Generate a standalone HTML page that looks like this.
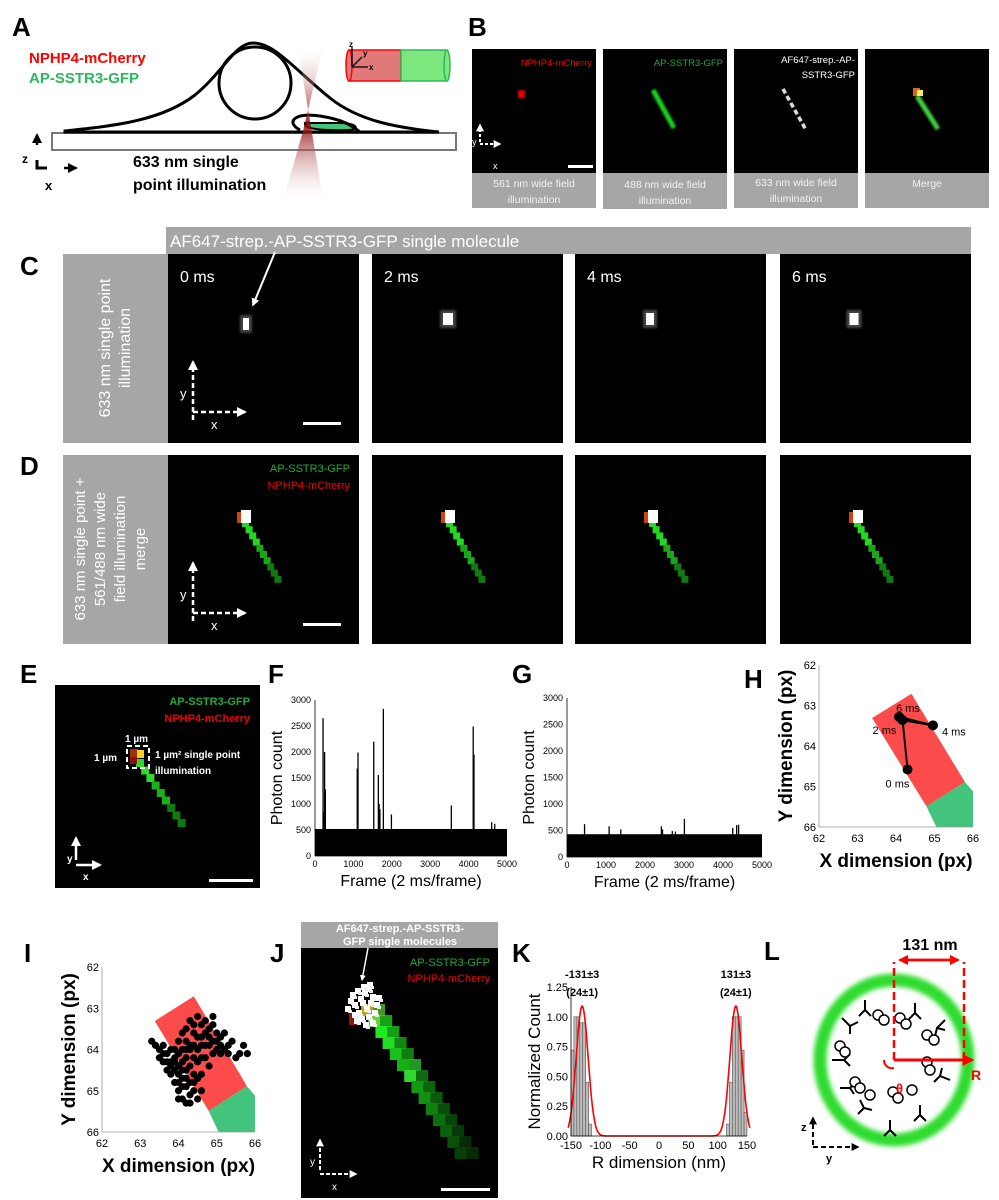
<!DOCTYPE html>
<html><head><meta charset="utf-8">
<style>
html,body{margin:0;padding:0;background:#fff;}
svg{display:block;font-family:"Liberation Sans",sans-serif;}
.lt{font-weight:bold;font-size:26px;fill:#000;}
.gl{fill:#f2f2f2;font-size:10.5px;text-anchor:middle;}
.tk{font-size:9px;fill:#000;}
.tkb{font-size:11px;fill:#000;}
</style></head>
<body>
<svg id="fig" width="999" height="1200" viewBox="0 0 999 1200">
<defs>
<linearGradient id="beam" x1="0" y1="0" x2="0" y2="1">
<stop offset="0" stop-color="#fff" stop-opacity="0"/><stop offset="0.5" stop-color="#8b0000"/><stop offset="1" stop-color="#fff" stop-opacity="0"/>
</linearGradient>
<marker id="ah" viewBox="0 0 10 10" refX="8" refY="5" markerWidth="4" markerHeight="4" orient="auto"><path d="M0,0L10,5L0,10z" fill="#fff"/></marker>
<marker id="ahk" viewBox="0 0 10 10" refX="8" refY="5" markerWidth="4" markerHeight="4" orient="auto"><path d="M0,0L10,5L0,10z" fill="#000"/></marker>
<marker id="ahr" viewBox="0 0 10 10" refX="8" refY="5" markerWidth="4" markerHeight="4" orient="auto"><path d="M0,0L10,5L0,10z" fill="#f00"/></marker>
<filter id="blur"><feGaussianBlur stdDeviation="2.5"/></filter>
<filter id="sblur"><feGaussianBlur stdDeviation="1"/></filter>
</defs>

<g>
<text class="lt" x="12" y="36">A</text>
<text x="29" y="63" font-size="15" font-weight="bold" fill="#f00">NPHP4-mCherry</text>
<text x="29" y="83" font-size="15" font-weight="bold" fill="#2eb85c">AP-SSTR3-GFP</text>
<rect x="52" y="133" width="404" height="17" fill="#fff" stroke="#777" stroke-width="2"/>
<path d="M65,131 C110,126 160,122 195,95 C225,70 235,43 253,43 C275,43 295,70 330,98 C360,122 400,128 439,132 L65,132 Z" fill="#fff" stroke="#000" stroke-width="3"/>
<circle cx="255" cy="83" r="36" fill="none" stroke="#000" stroke-width="3"/>
<path d="M305,125 C306,131 350,131 355,129 C358,126 352,123 340,123 L305,123 Z" fill="#44c47a" stroke="#000" stroke-width="2"/>
<path d="M300,130 C285,122 295,112 320,116 C345,120 352,126 360,132" fill="none" stroke="#000" stroke-width="3"/>
<polygon points="297,43 324,43 303,131 282,205 324,205" fill="url(#beam)" opacity="0.85"/>
<g>
<rect x="349" y="50" width="52" height="31" fill="#e07a7a" stroke="#f00" stroke-width="1.5"/>
<ellipse cx="349" cy="65.5" rx="3" ry="15.5" fill="#e07a7a" stroke="#f00" stroke-width="1.5"/>
<rect x="401" y="50" width="46" height="31" fill="#7ee67e" stroke="#2eb85c" stroke-width="1.5"/>
<ellipse cx="447" cy="65.5" rx="3" ry="15.5" fill="#7ee67e" stroke="#2eb85c" stroke-width="1.5"/>
<path d="M352,67 L352,47 M352,67 L368,67 M352,67 L362,57" stroke="#000" stroke-width="1.3" fill="none"/>
<text x="349" y="47" font-size="8" font-weight="bold">z</text><text x="363" y="56" font-size="8" font-weight="bold">y</text><text x="369" y="70" font-size="8" font-weight="bold">x</text>
</g>
<g>
<path d="M37,145 L37,135" stroke="#000" stroke-width="2.5" marker-end="url(#ahk)"/>
<path d="M37,160 L37,168 L47,168" stroke="#000" stroke-width="3" fill="none"/>
<path d="M64,168 L76,168" stroke="#000" stroke-width="2.5" marker-end="url(#ahk)"/>
<text x="22" y="163" font-size="12" font-weight="bold">z</text><text x="45" y="190" font-size="13" font-weight="bold">x</text>
</g>
<text x="133" y="167" font-size="16" font-weight="bold">633 nm single</text>
<text x="133" y="190" font-size="16" font-weight="bold">point illumination</text>
</g>

<g>
<text class="lt" x="468" y="36">B</text>
<rect x="472" y="49" width="124" height="124" fill="#000"/>
<rect x="603" y="49" width="124" height="124" fill="#000"/>
<rect x="734" y="49" width="124" height="124" fill="#000"/>
<rect x="865" y="49" width="124" height="124" fill="#000"/>
<rect x="472" y="173" width="124" height="35" fill="#a6a6a6"/><rect x="603" y="173" width="124" height="36" fill="#a6a6a6"/>
<rect x="734" y="173" width="124" height="35" fill="#a6a6a6"/><rect x="865" y="173" width="124" height="35" fill="#a6a6a6"/>
<text class="gl" x="534" y="187">561 nm wide field</text><text class="gl" x="534" y="203">illumination</text>
<text class="gl" x="665" y="188">488 nm wide field</text><text class="gl" x="665" y="204">illumination</text>
<text class="gl" x="796" y="186">633 nm wide field</text><text class="gl" x="796" y="202">illumination</text>
<text class="gl" x="927" y="187">Merge</text>
<text x="592" y="66" font-size="9.5" fill="#e00" text-anchor="end">NPHP4-mCherry</text>
<text x="723" y="66" font-size="9.5" fill="#1faa3c" text-anchor="end">AP-SSTR3-GFP</text>
<text x="855" y="63" font-size="9.5" fill="#fff" text-anchor="end">AF647-strep.-AP-</text>
<text x="855" y="78" font-size="9.5" fill="#fff" text-anchor="end">SSTR3-GFP</text>
<rect x="518" y="90" width="7" height="8" fill="#e00" filter="url(#sblur)"/>
<path d="M653,90 L674,128" stroke="#1fd01f" stroke-width="5" filter="url(#sblur)"/>
<path d="M783,89 L806,130" stroke="#ddd" stroke-width="3.5" stroke-dasharray="5,3"/>
<path d="M917,96 L938,129" stroke="#3fcf3f" stroke-width="5" filter="url(#sblur)"/>
<rect x="913" y="88" width="7" height="8" fill="#e06020"/><rect x="917" y="90" width="6" height="6" fill="#ffee66"/>
<path d="M480,142 L480,125" stroke="#fff" stroke-width="2" stroke-dasharray="3,2" marker-end="url(#ah)"/>
<path d="M480,144 L500,144" stroke="#fff" stroke-width="2" stroke-dasharray="3,2" marker-end="url(#ah)"/>
<text x="472" y="145" font-size="9" fill="#fff">y</text><text x="493" y="169" font-size="9" fill="#fff">x</text>
<rect x="568" y="165" width="25" height="3" fill="#fff"/>
</g>

<g id="cd">
<text class="lt" x="20" y="275">C</text>
<text class="lt" x="20" y="475">D</text>
<rect x="166" y="227" width="805" height="27" fill="#a6a6a6"/>
<text x="170" y="247" font-size="17" fill="#fff">AF647-strep.-AP-SSTR3-GFP single molecule</text>
<rect x="63" y="254" width="105" height="189" fill="#a6a6a6"/>
<rect x="63" y="455" width="105" height="189" fill="#a6a6a6"/>
<g transform="translate(115,348) rotate(-90)" font-size="16" fill="#fff" text-anchor="middle">
<text x="0" y="-5">633 nm single point</text><text x="0" y="15">illumination</text></g>
<g transform="translate(115,549) rotate(-90)" font-size="15" fill="#fff" text-anchor="middle">
<text x="0" y="-30">633 nm single point +</text><text x="0" y="-10">561/488 nm  wide</text><text x="0" y="10">field illumination</text><text x="0" y="30">merge</text></g>
</g>

<g>
<text class="lt" x="20" y="683">E</text>
<rect x="55" y="685" width="205" height="203" fill="#000"/>
<text x="250" y="705" font-size="11" font-weight="bold" fill="#1faa3c" text-anchor="end">AP-SSTR3-GFP</text>
<text x="250" y="722" font-size="11" font-weight="bold" fill="#e00" text-anchor="end">NPHP4-mCherry</text>
<g id="epix"></g>
<rect x="127" y="746" width="22" height="22" fill="none" stroke="#fff" stroke-width="2" stroke-dasharray="5,3"/>
<text x="125" y="742" font-size="10" font-weight="bold" fill="#fff">1 µm</text>
<text x="94" y="761" font-size="10" font-weight="bold" fill="#fff">1 µm</text>
<text x="155" y="758" font-size="10" font-weight="bold" fill="#fff">1 µm² single point</text>
<text x="155" y="774" font-size="10" font-weight="bold" fill="#fff">illumination</text>
<path d="M76,860 L76,838" stroke="#fff" stroke-width="2.5" marker-end="url(#ah)"/>
<path d="M76,865 L100,865" stroke="#fff" stroke-width="2.5" marker-end="url(#ah)"/>
<text x="67" y="862" font-size="10" font-weight="bold" fill="#fff">y</text><text x="83" y="880" font-size="10" font-weight="bold" fill="#fff">x</text>
<rect x="209" y="879" width="44" height="3" fill="#fff"/>
</g>

<g id="charts"></g>

<g>
<text class="lt" x="270" y="962">J</text>
<rect x="301" y="922" width="197" height="26" fill="#a6a6a6"/>
<text x="400" y="932" font-size="11" font-weight="bold" fill="#fff" text-anchor="middle">AF647-strep.-AP-SSTR3-</text>
<text x="400" y="945" font-size="11" font-weight="bold" fill="#fff" text-anchor="middle">GFP single molecules</text>
<rect x="301" y="948" width="197" height="250" fill="#000"/>
<text x="490" y="966" font-size="11" fill="#1faa3c" text-anchor="end">AP-SSTR3-GFP</text>
<text x="490" y="982" font-size="11" fill="#e00" text-anchor="end">NPHP4-mCherry</text>
<g id="jpix"></g>
<path d="M368,948 L362,980" stroke="#fff" stroke-width="1.5" marker-end="url(#ah)"/>
<path d="M320,1170 L320,1140" stroke="#fff" stroke-width="2" stroke-dasharray="4,2" marker-end="url(#ah)"/>
<path d="M320,1174 L356,1174" stroke="#fff" stroke-width="2" stroke-dasharray="4,2" marker-end="url(#ah)"/>
<text x="310" y="1165" font-size="10" fill="#fff">y</text><text x="332" y="1190" font-size="10" fill="#fff">x</text>
<rect x="441" y="1188" width="49" height="3" fill="#fff"/>
</g>

<g>
<text class="lt" x="764" y="960">L</text>
<ellipse cx="894" cy="1060" rx="74" ry="80" fill="none" stroke="#2edc2e" stroke-width="13" filter="url(#blur)"/>
<g stroke="#000" stroke-width="2" fill="none">
<path d="M842,1018 l8,8 m0,0 l0,8 m0,-8 l8,-4"/><path d="M865,1000 l0,10 l-6,6 m6,-6 l6,6"/>
<path d="M915,1003 l0,10 l-6,6 m6,-6 l6,6"/><path d="M945,1020 l-8,8 l-2,8 m2,-8 l8,2"/>
<path d="M832,1060 l12,0 l6,-6 m-6,6 l6,6"/><path d="M950,1080 l-10,-4 l-6,6 m6,-6 l2,-8"/>
<path d="M860,1100 l4,8 l-6,6 m6,-6 l8,2"/><path d="M920,1105 l0,10 l-6,6 m6,-6 l6,6"/>
<path d="M890,1120 l0,10 l-6,6 m6,-6 l6,6"/><path d="M840,1088 l10,0 l6,-6 m-6,6 l4,6"/>
</g>
<g stroke="#000" stroke-width="1.5" fill="#fff">
<circle cx="878" cy="1015" r="5"/><circle cx="884" cy="1020" r="5"/><circle cx="900" cy="1018" r="5"/><circle cx="906" cy="1024" r="5"/>
<circle cx="927" cy="1035" r="5"/><circle cx="934" cy="1040" r="5"/><circle cx="840" cy="1046" r="5"/><circle cx="845" cy="1052" r="5"/>
<circle cx="927" cy="1062" r="5"/><circle cx="930" cy="1070" r="5"/><circle cx="855" cy="1082" r="5"/><circle cx="860" cy="1088" r="5"/>
<circle cx="893" cy="1092" r="5"/><circle cx="898" cy="1098" r="5"/><circle cx="912" cy="1090" r="5"/><circle cx="870" cy="1095" r="5"/>
</g>
<path d="M894,1060 L894,962 M964,1060 L964,962" stroke="#f00" stroke-width="2.5" stroke-dasharray="8,4" fill="none"/>
<path d="M900,960 L958,960" stroke="#f00" stroke-width="2.5" marker-end="url(#ahr)"/>
<path d="M958,960 L900,960" stroke="#f00" stroke-width="2.5" marker-end="url(#ahr)"/>
<text x="930" y="950" font-size="16" font-weight="bold" text-anchor="middle">131 nm</text>
<path d="M894,1060 L972,1060" stroke="#f00" stroke-width="3" marker-end="url(#ahr)"/>
<path d="M894,1068 A8,8 0 0 1 884,1060" stroke="#f00" stroke-width="2" fill="none"/>
<text x="971" y="1080" font-size="14" font-weight="bold" fill="#f00">R</text>
<text x="896" y="1093" font-size="13" font-weight="bold" fill="#f00">θ</text>
<path d="M813,1145 L813,1118" stroke="#000" stroke-width="2" stroke-dasharray="5,3" marker-end="url(#ahk)"/>
<path d="M813,1147 L858,1147" stroke="#000" stroke-width="2" stroke-dasharray="5,3" marker-end="url(#ahk)"/>
<text x="801" y="1131" font-size="11" font-weight="bold">z</text><text x="826" y="1162" font-size="11" font-weight="bold">y</text>
</g>
</svg>

<script>
// ---------- data ----------
var fSpikeFrames = [210,230,250,270,1100,1120,1530,1650,1670,1690,1780,1990,3550,4120,4140,4600,4680];
var fSpikeCounts = [2650,850,2000,1280,1680,1990,2200,1560,1000,900,2830,800,970,2490,1950,650,620];
var fBase = [520];
var gSpikeFrames = [450,1080,1380,2420,2450,2700,2780,3010,4250,4350,4400];
var gSpikeCounts = [620,580,520,580,520,490,480,720,550,600,610];
var gBase = [430];
var frameTicks = [0,1000,2000,3000,4000,5000];
var countTicks = [0,500,1000,1500,2000,2500,3000];
var hTimes = ['0 ms','2 ms','4 ms','6 ms'];
var hX = [64.3,64.17,64.96,64.08];
var hY = [64.58,63.36,63.49,63.28];
var redPolyX = [63.38,64.4,65.79,64.79];
var redPolyY = [63.31,62.71,64.89,65.49];
var greenPolyX = [65.79,66,66,65.05,64.79];
var greenPolyY = [64.89,65.12,66,66,65.49];
var pxTicks = [62,63,64,65,66];
var iX = [63.3,63.4,63.5,63.5,63.6,63.6,63.7,63.7,63.8,63.8,63.8,63.9,63.9,63.9,64.0,64.0,64.0,64.0,64.1,64.1,64.1,64.1,64.2,64.2,64.2,64.2,64.3,64.3,64.3,64.3,64.4,64.4,64.4,64.4,64.5,64.5,64.5,64.6,64.6,64.6,64.7,64.7,64.7,64.8,64.8,64.8,64.9,64.9,65.0,65.0,65.1,65.1,65.2,65.2,65.3,65.4,65.5,65.6,65.7,65.8,63.6,63.7,63.9,64.0,64.1,64.2,64.3,64.4,64.2,64.3,64.5,64.6,64.1,64.0,63.9,64.2,64.4,64.6,64.8,65.0,64.7,64.9,65.1,65.3,64.5,64.3,64.1,63.8,64.0,64.2,64.6,64.5,64.9,64.4];
var iY = [63.8,63.9,64.0,64.2,63.9,64.3,64.1,64.5,64.0,64.3,64.6,64.2,64.5,64.8,63.8,64.1,64.6,65.0,63.6,64.3,64.7,65.2,63.5,64.0,64.9,65.3,63.3,63.9,64.4,65.1,63.4,64.2,64.6,65.0,63.2,63.7,64.3,63.4,63.9,64.6,63.3,63.6,64.2,63.5,63.9,64.4,63.4,63.8,63.6,64.0,63.7,64.1,63.6,64.0,63.9,63.8,64.2,64.1,63.9,64.1,64.1,64.3,64.0,64.4,64.0,64.5,64.8,64.8,64.2,64.0,64.0,64.2,64.5,64.8,64.3,64.7,63.9,63.7,63.7,63.8,63.9,64.1,63.9,64.1,64.7,65.3,64.9,64.4,65.2,63.8,65.0,65.2,63.2,63.6];
var kBinCenters = [-147.5,-142.5,-137.5,-132.5,-127.5,-122.5,-117.5,117.5,122.5,127.5,132.5,137.5,142.5,147.5];
var kBinCounts = [0.72,1.0,1.0,0.95,0.95,0.45,0.1,0.1,0.45,1.0,1.0,1.0,0.72,0.2];
var kFitMu = [-131,131];
var kFitSigma = [10.2,10.2];
var kFitAmp = [1.09,1.09];
var kXTicks = [-150,-100,-50,0,50,100,150];
var kYTicks = [0,0.25,0.5,0.75,1.0,1.25];
var kYTickLabels = ['0.00','0.25','0.50','0.75','1.00','1.25'];

var NS='http://www.w3.org/2000/svg';
function mk(tag, attrs, parent){var e=document.createElementNS(NS,tag);for(var k in attrs)e.setAttribute(k,attrs[k]);parent.appendChild(e);return e;}
function lin(d0,d1,r0,r1){return function(v){return r0+(v-d0)/(d1-d0)*(r1-r0);};}
var charts=document.getElementById('charts');

// ---------- C/D images ----------
var cd=document.getElementById('cd');
var imgX=[168,372,575,780];
var cLbl=['0 ms','2 ms','4 ms','6 ms'];
var cSpotDX=[78,76,75,74];
var cSpotDY=[69,64,64,64];
var cSpotW=[6,10,8,9];
for(var i=0;i<4;i++){
  var r=mk('rect',{x:imgX[i],y:254,width:191,height:189,fill:'#000'},cd);
  
  
  var t=mk('text',{x:imgX[i]+12,y:282,'font-size':16,fill:'#fff'},cd);t.textContent=cLbl[i];
  var sx=imgX[i]+cSpotDX[i], sy=254+cSpotDY[i];
  mk('rect',{x:sx-cSpotW[i]/2-3,y:sy-8,width:cSpotW[i]+6,height:18,fill:'#444',filter:'url(#sblur)'},cd);
  mk('rect',{x:sx-cSpotW[i]/2,y:sy-5,width:cSpotW[i],height:12,fill:'#fff'},cd);
  var r2=mk('rect',{x:imgX[i],y:455,width:191,height:189,fill:'#000'},cd);
  
  
  var hx=imgX[i]+74, hy=455+65;
  for(var k=0;k<10;k++){mk('rect',{x:hx+k*3.6,y:hy+k*6.2,width:7,height:7,fill:k<4?'#22d822':(k<7?'#1aa81a':'#127a12')},cd);}
  mk('rect',{x:hx-5,y:hy-8,width:7,height:11,fill:'#d04010'},cd);
  mk('rect',{x:hx-1,y:hy-10,width:10,height:13,fill:'#fff'},cd);
}
var axy=[[193,420,412],[193,621,613]];
for(var a=0;a<2;a++){
  mk('path',{d:'M'+axy[a][0]+','+axy[a][1]+' L'+axy[a][0]+','+(axy[a][1]-58),stroke:'#fff','stroke-width':2.5,'stroke-dasharray':'5,3','marker-end':'url(#ah)'},cd);
  mk('path',{d:'M'+axy[a][0]+','+axy[a][2]+' L'+(axy[a][0]+52)+','+axy[a][2],stroke:'#fff','stroke-width':2.5,'stroke-dasharray':'5,3','marker-end':'url(#ah)'},cd);
  var ty=mk('text',{x:axy[a][0]-13,y:axy[a][1]-22,'font-size':13,fill:'#fff'},cd);ty.textContent='y';
  var tx=mk('text',{x:axy[a][0]+18,y:axy[a][2]+17,'font-size':13,fill:'#fff'},cd);tx.textContent='x';
  mk('rect',{x:303,y:axy[a][1]+2,width:38,height:3,fill:'#fff'},cd);
}
mk('path',{d:'M275,252 L253,305',stroke:'#fff','stroke-width':2,'marker-end':'url(#ah)'},cd);
var t1=mk('text',{x:350,y:472,'font-size':11,fill:'#1faa3c','text-anchor':'end'},cd);t1.textContent='AP-SSTR3-GFP';
var t2=mk('text',{x:350,y:489,'font-size':11,fill:'#e00','text-anchor':'end'},cd);t2.textContent='NPHP4-mCherry';

// E pixels
var ep=document.getElementById('epix');
for(var k=0;k<9;k++){mk('rect',{x:136+k*5.2,y:759+k*7.5,width:8,height:8,fill:k<3?'#2ed82e':(k<6?'#1bb01b':'#0f7a0f')},ep);}
mk('rect',{x:130,y:749,width:8,height:8,fill:'#a03010'},ep);mk('rect',{x:137,y:750,width:7,height:8,fill:'#ffcc22'},ep);mk('rect',{x:130,y:757,width:7,height:7,fill:'#901010'},ep);

// J pixels
var jp=document.getElementById('jpix');
var jShade=['#c8a000','#5fd82e','#1ee81e','#22dd22','#19c019','#15b015','#30d830','#129a12','#119011','#0f800f','#0d700d','#0b600b','#0a500a','#083e08'];
for(var k=0;k<14;k++){
  mk('rect',{x:361+k*7.2,y:1004+k*11,width:12,height:12,fill:jShade[k]},jp);
  mk('rect',{x:373+k*7.2,y:1004+k*11,width:12,height:12,fill:jShade[Math.min(k+1,13)],opacity:0.7},jp);
}
mk('rect',{x:349,y:1013,width:12,height:12,fill:'#8a1a0a'},jp);
var jdx=[350,355,358,362,366,370,352,360,364,368,372,356,348,361,366,374,354,359,363,370,345,352,376,367];
var jdy=[992,988,996,990,986,994,1002,1000,1006,1000,1010,1010,998,984,1014,1002,1018,1016,1022,1020,1006,1012,995,982];
for(var k=0;k<jdx.length;k++){mk('rect',{x:jdx[k],y:jdy[k],width:6,height:6,fill:'#fff'},jp);mk('rect',{x:jdx[k]+3,y:jdy[k]+4,width:4,height:3,fill:'#eee'},jp);}

// ---------- F / G ----------
function photonChart(name,letter,lx,x0,x1,y0,y1,frames,counts,base){
  var g=mk('g',{},charts);
  
  
  var X=lin(0,5000,x0,x1), Y=lin(0,3000,y0,y1);
  var lt=mk('text',{x:lx,y:683,'class':'lt'},g);lt.textContent=letter;
  var b=mk('rect',{x:X(0),y:Y(base[0]),width:X(5000)-X(0),height:Y(0)-Y(base[0]),fill:'#000'},g);
  
  
  for(var i=0;i<frames.length;i++){
    var s=mk('line',{x1:X(frames[i]),x2:X(frames[i]),y1:Y(0),y2:Y(counts[i]),stroke:'#000','stroke-width':1.3},g);
    
    
  }
  mk('line',{x1:x0,x2:x0,y1:y0,y2:y1,stroke:'#000','stroke-width':0.8},g);
  mk('line',{x1:x0,x2:x1,y1:y0,y2:y0,stroke:'#000','stroke-width':0.8},g);
  for(var i=0;i<frameTicks.length;i++){var t=mk('text',{x:X(frameTicks[i]),y:y0+11,'class':'tk','text-anchor':'middle'},g);t.textContent=frameTicks[i];}
  for(var i=0;i<countTicks.length;i++){var t=mk('text',{x:x0-4,y:Y(countTicks[i])+3,'class':'tk','text-anchor':'end'},g);t.textContent=countTicks[i];}
  var xt=mk('text',{x:(x0+x1)/2,y:y0+30,'font-size':16,'text-anchor':'middle'},g);xt.textContent='Frame (2 ms/frame)';
  
  
  var yt=mk('text',{x:0,y:0,'font-size':16,'text-anchor':'middle',transform:'translate('+(x0-33)+','+((y0+y1)/2)+') rotate(-90)'},g);yt.textContent='Photon count';
  
  
}
photonChart('chart-f','F',268,315,507,856,700,fSpikeFrames,fSpikeCounts,fBase);
photonChart('chart-g','G',512,567,762,857,698,gSpikeFrames,gSpikeCounts,gBase);

// ---------- H / I ----------
function posChart(name,letter,lx,ly,x0,x1,y0,y1){
  var g=mk('g',{},charts);
  
  
  var X=lin(62,66,x0,x1), Y=lin(62,66,y0,y1);
  var lt=mk('text',{x:lx,y:ly,'class':'lt'},g);lt.textContent=letter;
  var rp=[],gp=[];
  for(var i=0;i<redPolyX.length;i++)rp.push(X(redPolyX[i])+','+Y(redPolyY[i]));
  for(var i=0;i<greenPolyX.length;i++)gp.push(X(greenPolyX[i])+','+Y(greenPolyY[i]));
  var r=mk('polygon',{points:rp.join(' '),fill:'#fb4b4b'},g);
  
  
  var gg=mk('polygon',{points:gp.join(' '),fill:'#42c47c'},g);
  
  
  mk('line',{x1:x0,x2:x0,y1:y0,y2:y1,stroke:'#999','stroke-width':0.8},g);
  mk('line',{x1:x0,x2:x1,y1:y1,y2:y1,stroke:'#999','stroke-width':0.8},g);
  for(var i=0;i<pxTicks.length;i++){
    var t=mk('text',{x:X(pxTicks[i]),y:y1+15,'class':'tkb','text-anchor':'middle'},g);t.textContent=pxTicks[i];
    var t2=mk('text',{x:x0-3,y:Y(pxTicks[i])+4,'class':'tkb','text-anchor':'end'},g);t2.textContent=pxTicks[i];
  }
  var xt=mk('text',{x:(x0+x1)/2,y:y1+40,'font-size':19,'font-weight':'bold','text-anchor':'middle'},g);xt.textContent='X dimension (px)';
  
  
  var yt=mk('text',{x:0,y:0,'font-size':19,'font-weight':'bold','text-anchor':'middle',transform:'translate('+(x0-27)+','+((y0+y1)/2)+') rotate(-90)'},g);yt.textContent='Y dimension (px)';
  
  
  return {g:g,X:X,Y:Y};
}
var H=posChart('chart-h','H',744,688,819,973,665,827);
var pts=[];
for(var i=0;i<hX.length;i++)pts.push(H.X(hX[i])+','+H.Y(hY[i]));
var tr=mk('polyline',{points:pts.join(' '),fill:'none',stroke:'#000','stroke-width':2},H.g);


var hOff=[[-22,18],[-30,14],[9,10],[-3,-5]];
for(var i=0;i<hX.length;i++){
  var c=mk('circle',{cx:H.X(hX[i]),cy:H.Y(hY[i]),r:5,fill:'#000'},H.g);
  
  
  var t=mk('text',{x:H.X(hX[i])+hOff[i][0],y:H.Y(hY[i])+hOff[i][1],'font-size':11},H.g);t.textContent=hTimes[i];
}
var I=posChart('chart-i','I',24,962,102,255,967,1132);
for(var i=0;i<iX.length;i++){
  var c=mk('circle',{cx:I.X(iX[i]),cy:I.Y(iY[i]),r:3.6,fill:'#000'},I.g);
  
  
}

// ---------- K ----------
(function(){
  var g=mk('g',{},charts);
  
  
  var x0=571,x1=747,y0=1136,y1=987;
  var X=lin(-150,150,x0,x1), Y=lin(0,1.25,y0,y1);
  var lt=mk('text',{x:512,y:962,'class':'lt'},g);lt.textContent='K';
  for(var i=0;i<kBinCenters.length;i++){
    var b=mk('rect',{x:X(kBinCenters[i]-2.5),y:Y(kBinCounts[i]),width:X(5)-X(0),height:Y(0)-Y(kBinCounts[i]),fill:'#bdbdbd',stroke:'#555','stroke-width':0.6},g);
    
    
  }
  var d='';
  for(var v=-155;v<=155;v+=1){
    var y=0;for(var j=0;j<kFitMu.length;j++){y+=kFitAmp[j]*Math.exp(-Math.pow(v-kFitMu[j],2)/(2*kFitSigma[j]*kFitSigma[j]));}
    d+=(v==-155?'M':'L')+X(v).toFixed(1)+','+Y(y).toFixed(1);
  }
  var fc=mk('path',{d:d,fill:'none',stroke:'#f00','stroke-width':1.6},g);
  
  
  mk('line',{x1:x0,x2:x0,y1:y0,y2:y1,stroke:'#000','stroke-width':0.8},g);
  mk('line',{x1:x0,x2:x1,y1:y0,y2:y0,stroke:'#000','stroke-width':0.8},g);
  for(var i=0;i<kXTicks.length;i++){var t=mk('text',{x:X(kXTicks[i]),y:y0+13,'class':'tkb','text-anchor':'middle'},g);t.textContent=kXTicks[i];}
  for(var i=0;i<kYTicks.length;i++){var t=mk('text',{x:x0-3,y:Y(kYTicks[i])+4,'class':'tkb','text-anchor':'end'},g);t.textContent=kYTickLabels[i];}
  var xt=mk('text',{x:(x0+x1)/2,y:y0+32,'font-size':17,'text-anchor':'middle'},g);xt.textContent='R dimension (nm)';
  
  
  var yt=mk('text',{x:0,y:0,'font-size':17,'text-anchor':'middle',transform:'translate('+(x0-31)+','+((y0+y1)/2)+') rotate(-90)'},g);yt.textContent='Normalized Count';
  
  
  var a1=mk('text',{x:X(-131),y:978,'font-size':11,'font-weight':'bold','text-anchor':'middle'},g);a1.textContent='-131±3';
  var a2=mk('text',{x:X(-131),y:996,'font-size':11,'font-weight':'bold','text-anchor':'middle'},g);a2.textContent='(24±1)';
  var a3=mk('text',{x:X(131),y:978,'font-size':11,'font-weight':'bold','text-anchor':'middle'},g);a3.textContent='131±3';
  var a4=mk('text',{x:X(131),y:996,'font-size':11,'font-weight':'bold','text-anchor':'middle'},g);a4.textContent='(24±1)';
})();
</script>
</body></html>
